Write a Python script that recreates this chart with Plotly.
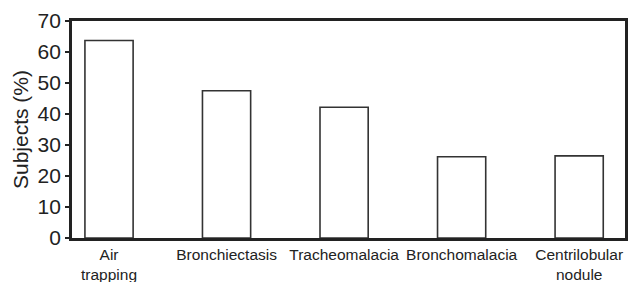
import plotly.graph_objects as go

categories = ["Air<br>trapping", "Bronchiectasis", "Tracheomalacia", "Bronchomalacia", "Centrilobular<br>nodule"]
subjects_pct = [63.7, 47.5, 42.2, 26.2, 26.5]
y_ticks = [0, 10, 20, 30, 40, 50, 60, 70]

fig = go.Figure()
fig.add_trace(go.Bar(
    x=categories, y=subjects_pct, width=0.41,
    marker=dict(color="white", line=dict(color="#333333", width=1.6)),
))

font_family = "Liberation Sans, Arial, sans-serif"
fig.update_layout(
    width=628, height=282,
    margin=dict(l=72, r=3, t=21, b=44),
    plot_bgcolor="white", paper_bgcolor="white",
    showlegend=False,
    font=dict(family=font_family, color="#222222"),
)
fig.update_xaxes(
    type="category", range=[-0.315, 4.39], automargin=False,
    showline=True, linecolor="#222222", linewidth=2.8, mirror=True,
    ticks="", showgrid=False,
    tickfont=dict(size=15.5, color="#222222"),
)
fig.update_yaxes(
    range=[0, 70], tickvals=y_ticks, automargin=False,
    showline=True, linecolor="#222222", linewidth=2.8, mirror=True,
    ticks="outside", ticklen=4, tickwidth=1.5, tickcolor="#222222",
    showgrid=False, zeroline=False,
    tickfont=dict(size=21, color="#222222"),
    title=dict(text="Subjects (%)", font=dict(size=21, color="#222222"), standoff=4),
)
fig.write_html(
    "out.html",
    config={"displayModeBar": False},
    post_script="document.body.style.margin='0';document.body.style.overflow='hidden';",
)
